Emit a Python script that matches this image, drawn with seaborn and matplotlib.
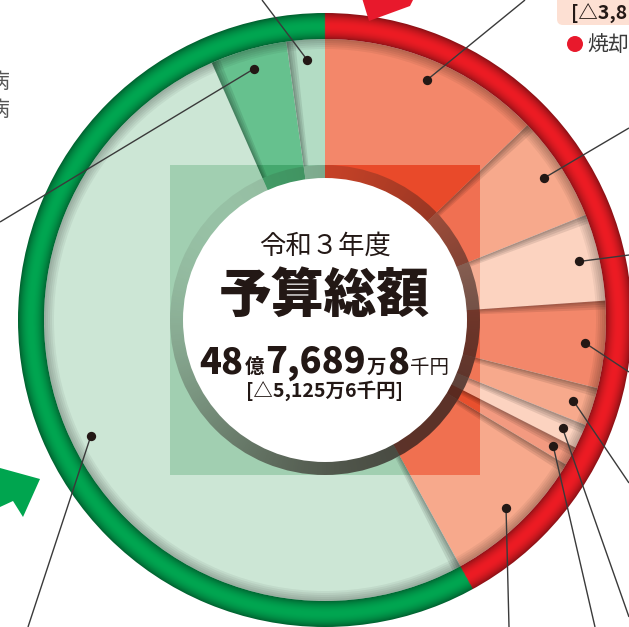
import numpy as np
import matplotlib
matplotlib.use("Agg")
import matplotlib.pyplot as plt
from matplotlib.colors import to_rgb
from matplotlib.patches import Wedge, Circle, Polygon, FancyBboxPatch
import seaborn as sns

# shares of the budget (percent), clockwise from 12 o'clock
red_shares = [12.8, 6.1, 5.0, 5.0, 2.2, 1.4, 1.1, 8.4]
green_shares = [51.4, 4.4, 2.2]

red_colors = ['#f3876a', '#f7a98c', '#fcd3c0', '#f3876a', '#f7a98c', '#fcd3c0', '#f39a80', '#f7a98c']
green_colors = ['#cce6d5', '#66c18e', '#b3dcc4']
# same slices, as seen through the darker centre square
red_colors_dark = ['#e94a2a', '#f07052', '#f6ad93', '#ef6444', '#f07656', '#f6a88e', '#e8502e', '#f07050']
green_colors_dark = ['#a1cfb1', '#45a86e', '#8ec7a5']
ring_colors = ['#ed1c24', '#00a651']

# where each leader line leaves the picture (pixel coords)
red_label_xy = [(525, 0), (629, 128), (629, 255), (629, 372), (629, 483), (629, 617), (595, 627), (509, 627)]
green_label_xy = [(28, 627), (0, 222), (262, 0)]

title_year = '令和３年度'
title_main = '予算総額'
total_parts = [('48', 26, 'heavy'), ('億', 14, 'bold'), ('7,689', 26, 'heavy'),
               ('万', 14, 'bold'), ('8', 26, 'heavy'), ('千円', 14, 'normal')]
total_change = '[△5,125万6千円]'

CX, CY = 325, 320          # pie centre in pixels
R_PIE, R_RING = 281, 307
R_HOLE, R_WHITE = 155, 142
INK = '#231815'


def px(x, y):
    return x - CX, CY - y


sns.set_style('white')
plt.rcParams['font.family'] = ['Noto Sans CJK JP', 'DejaVu Sans']

fig = plt.figure(figsize=(6.29, 6.27), dpi=100)
ax = fig.add_axes([0, 0, 1, 1])

shares = red_shares + green_shares
colors = sns.color_palette(red_colors + green_colors)
dark = sns.color_palette(red_colors_dark + green_colors_dark)

ax.pie(shares, colors=colors, startangle=90, counterclock=False, radius=R_PIE,
       wedgeprops=dict(linewidth=0, zorder=1))

# darker square behind the centre
dw, _ = ax.pie(shares, colors=dark, startangle=90, counterclock=False, radius=R_PIE,
               wedgeprops=dict(linewidth=0, zorder=2))
sq = Polygon([(-R_HOLE, -R_HOLE), (R_HOLE, -R_HOLE), (R_HOLE, R_HOLE), (-R_HOLE, R_HOLE)],
             closed=True, transform=ax.transData)
for w in dw:
    w.set_clip_on(True)
    w.set_clip_path(sq)

# soft shadows on the leading edge of every slice
cum = np.cumsum(shares) / np.sum(shares) * 360
starts = np.concatenate([[0], cum[:-1]])
mids = (starts + cum) / 2
for a0 in starts[1:]:
    for width in [0.4, 0.8, 1.3, 1.8]:
        ax.add_patch(Wedge((0, 0), R_PIE, 90 - a0 - width, 90 - a0, width=R_PIE - R_HOLE,
                           color='black', alpha=0.09, lw=0, zorder=3))

# shadow of the ring on the slices
for k in range(5):
    ax.add_patch(Wedge((0, 0), R_PIE, 0, 360, width=2 + 2 * k, color='black',
                       alpha=0.05, lw=0, zorder=3))

# outer ring, tube shaded: red over the red slices, green over the rest
red_end = 360 * sum(red_shares) / np.sum(shares)
g = np.linspace(-R_RING - 2, R_RING + 2, 1000)
gx, gy = np.meshgrid(g, g)
rr = np.hypot(gx, gy)
ang = (90 - np.degrees(np.arctan2(gy, gx))) % 360
t = np.clip((rr - R_PIE) / (R_RING - R_PIE), 0, 1)
shade = 0.58 + 0.42 * np.sin(np.pi * t) ** 0.8
base = np.where((ang < red_end)[..., None], to_rgb(ring_colors[0]), to_rgb(ring_colors[1]))
ring_img = np.clip(base * shade[..., None], 0, 1)
im = ax.imshow(ring_img, extent=(g[0], g[-1], g[0], g[-1]), origin='lower', zorder=4,
               interpolation='bilinear')
im.set_clip_path(Wedge((0, 0), R_RING, 0, 360, width=R_RING - R_PIE, transform=ax.transData))

# grey shaded ring round the centre hole
h = np.linspace(-R_HOLE, R_HOLE, 400)
hx, hy = np.meshgrid(h, h)
phi = np.arctan2(hy, hx)
img = np.zeros(hx.shape + (4,))
img[..., 0], img[..., 1], img[..., 2] = 0.17, 0.12, 0.11
img[..., 3] = np.clip(0.42 - 0.34 * np.cos(phi - np.radians(135)), 0, 1)
im2 = ax.imshow(img, extent=(-R_HOLE, R_HOLE, -R_HOLE, R_HOLE), origin='lower', zorder=5)
im2.set_clip_path(Wedge((0, 0), R_HOLE, 0, 360, width=R_HOLE - R_WHITE + 1, transform=ax.transData))
ax.add_patch(Circle((0, 0), R_WHITE, color='white', lw=0, zorder=6))

# centre text
ax.text(*px(325, 246), title_year, ha='center', va='center', fontsize=19, color=INK, zorder=7)
ax.text(*px(324, 296), title_main, ha='center', va='center', fontsize=38,
        fontweight='heavy', color=INK, zorder=7)

renderer = fig.canvas.get_renderer()
pieces = []
x0 = 0
for s, size, weight in total_parts:
    tx = ax.text(x0, 0, s, ha='left', va='baseline', fontsize=size, fontweight=weight,
                 color=INK, zorder=7)
    pieces.append(tx)
    x0 += tx.get_window_extent(renderer).width + 1
shift = -x0 / 2
_, by = px(0, 373)
for tx in pieces:
    x, _ = tx.get_position()
    tx.set_position((x + shift, by))
ax.text(*px(325, 391), total_change, ha='center', va='center', fontsize=14,
        fontweight='bold', color=INK, zorder=7)

# leader lines and dots
r_dot = 261
label_xy = red_label_xy + green_label_xy
for a, (lx, ly) in zip(mids, label_xy):
    th = np.radians(90 - a)
    dx, dy = r_dot * np.cos(th), r_dot * np.sin(th)
    ex, ey = px(lx, ly)
    ax.plot([dx, ex], [dy, ey], color='#3a3a3a', lw=1.0, zorder=8, solid_capstyle='butt')
    ax.scatter([dx], [dy], s=45, color=INK, zorder=9, linewidths=0)

# bits of the surrounding layout
ax.add_patch(FancyBboxPatch(px(557, 25), 100, 40, boxstyle='round,pad=0,rounding_size=6',
                            color='#fde0d3', lw=0, zorder=7))
ax.text(*px(571, 14), '[△3,8', ha='left', va='center', fontsize=14, fontweight='bold',
        color=INK, zorder=8)
ax.add_patch(Circle(px(575, 44), 8, color='#e8192c', lw=0, zorder=8))
ax.text(*px(587, 45), '焼却', ha='left', va='center', fontsize=15, color='#3a3a3a', zorder=8)
for yy in [82, 110]:
    ax.text(*px(9, yy), '病', ha='right', va='center', fontsize=15, color='#555555', zorder=8)
ax.add_patch(Polygon([px(362, -2), px(414, -2), px(410, 6), px(369, 21)],
                     closed=True, color='#e8192c', lw=0, zorder=8))
ax.add_patch(Polygon([px(0, 468), px(40, 479), px(23, 517), px(13, 501), px(0, 507)],
                     closed=True, color='#00a54f', lw=0, zorder=8))

ax.set_xlim(-CX, 629 - CX)
ax.set_ylim(CY - 627, CY)
ax.set_aspect('equal')
ax.axis('off')
fig.savefig('out.png', dpi=100)
